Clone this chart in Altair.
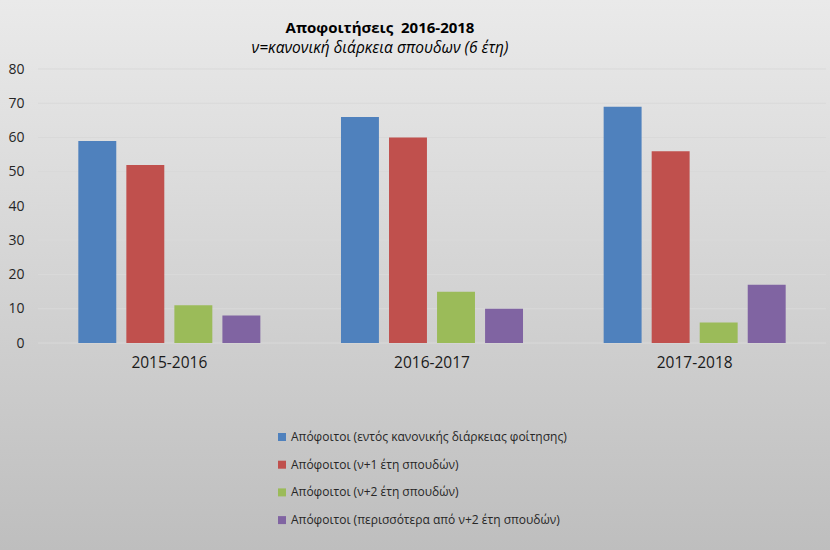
import altair as alt
import pandas as pd

years = ["2015-2016", "2016-2017", "2017-2018"]
series_names = [
    "Απόφοιτοι (εντός κανονικής διάρκειας φοίτησης)",
    "Απόφοιτοι (ν+1 έτη σπουδών)",
    "Απόφοιτοι (ν+2 έτη σπουδών)",
    "Απόφοιτοι (περισσότερα από ν+2 έτη σπουδών)",
]
within_normal = [59, 66, 69]
plus_one = [52, 60, 56]
plus_two = [11, 15, 6]
more_than_two = [8, 10, 17]
colors = ["#4F81BD", "#C0504D", "#9BBB59", "#8064A2"]
y_ticks = [0, 10, 20, 30, 40, 50, 60, 70, 80]

rows = []
for name, vals in zip(series_names, [within_normal, plus_one, plus_two, more_than_two]):
    for yr, v in zip(years, vals):
        rows.append({"year": yr, "series": name, "value": v})
df = pd.DataFrame(rows)

FONT = "Open Sans"
W, H = 788, 274
PL, PT, PR, PB = 38, 69, 4, 207

y_scale = alt.Scale(domain=[0, 80], nice=False)
y_axis = alt.Axis(title=None, values=y_ticks, grid=False, domain=False, ticks=False,
                  labelPadding=14, labelFontSize=14, labelColor="#262626",
                  labelFont=FONT, zindex=1)

gradient = alt.LinearGradient(
    gradient="linear",
    stops=[alt.GradientStop(color="#eaeaea", offset=0),
           alt.GradientStop(color="#bebebe", offset=1)],
    x1=0, x2=0, y1=0, y2=1,
)

bg = alt.Chart(pd.DataFrame({"k": [0]})).mark_rect(color=gradient).encode(
    x=alt.value(-PL), x2=alt.value(W + PR), y=alt.value(-PT), y2=alt.value(H + PB)
)

grid = alt.Chart(pd.DataFrame({"value": y_ticks})).mark_rule(
    color="#d9d9d9", strokeWidth=1
).encode(y=alt.Y("value:Q", scale=y_scale, axis=y_axis))

bars = alt.Chart(df).mark_bar().encode(
    x=alt.X("year:N", sort=years,
            scale=alt.Scale(paddingInner=0.307, paddingOuter=0.1535),
            axis=alt.Axis(title=None, labelAngle=0, domain=False, ticks=False,
                          labelPadding=12, labelFontSize=15.5, labelColor="#1a1a1a",
                          labelFont=FONT, zindex=1)),
    xOffset=alt.XOffset("series:N", sort=series_names,
                        scale=alt.Scale(paddingInner=0.21, paddingOuter=0)),
    y=alt.Y("value:Q", scale=y_scale, axis=y_axis),
    color=alt.Color("series:N", sort=series_names,
                    scale=alt.Scale(domain=series_names, range=colors),
                    legend=alt.Legend(title=None, orient="none", legendX=238, legendY=362,
                                      direction="vertical", symbolType="square",
                                      symbolSize=64, symbolStrokeWidth=0,
                                      labelFontSize=12, labelFont=FONT, labelLimit=0,
                                      labelColor="#262626", rowPadding=15.7,
                                      labelOffset=3, zindex=1)),
)

chart = alt.layer(bg, grid, bars).properties(
    width=W, height=H,
    padding={"left": PL, "top": PT, "right": PR, "bottom": PB},
    autosize=alt.AutoSizeParams(type="none"),
    title=alt.TitleParams(
        text="Αποφοιτήσεις\u00a0 2016-2018",
        subtitle="ν=κανονική διάρκεια σπουδων (6 έτη)",
        font=FONT, fontSize=15, fontWeight="bold", color="#000000",
        subtitleFont=FONT, subtitleFontSize=15.5, subtitleFontStyle="italic",
        subtitleColor="#000000", subtitlePadding=5,
        anchor="middle", dx=-52, offset=-56, zindex=1,
    ),
).configure(background="#d4d4d4").configure_view(stroke=None)

chart.save("out.html", embed_options={"renderer": "svg", "actions": False})
